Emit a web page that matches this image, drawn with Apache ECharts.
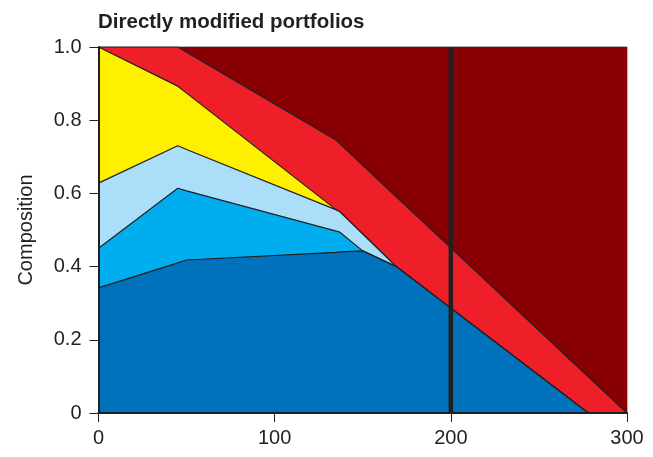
<!DOCTYPE html>
<html>
<head>
<meta charset="utf-8">
<script src="https://cdn.jsdelivr.net/npm/echarts@6/dist/echarts.min.js"></script>
<style>
  html, body { margin: 0; padding: 0; background: #fff; }
  #chart { width: 653px; height: 457px; }
</style>
</head>
<body>
<div id="chart"></div>
<script>
// Horizon points (x) where the portfolio mix changes slope
const xPoints = [0, 45, 50, 135, 137, 150, 169, 200, 278, 300];

// Share of each asset class at every x point (bottom layer first)
const shareDarkBlue  = [0.342, 0.410, 0.418, 0.439, 0.440, 0.443, 0.400, 0.286, 0.000, 0.000];
const shareMidBlue   = [0.108, 0.204, 0.189, 0.058, 0.054, 0.000, 0.000, 0.000, 0.000, 0.000];
const shareLightBlue = [0.178, 0.116, 0.113, 0.058, 0.056, 0.046, 0.000, 0.000, 0.000, 0.000];
const shareYellow    = [0.372, 0.163, 0.154, 0.000, 0.000, 0.000, 0.000, 0.000, 0.000, 0.000];
const shareRed       = [0.000, 0.107, 0.112, 0.190, 0.186, 0.188, 0.191, 0.165, 0.099, 0.000];
const shareDarkRed   = [0.000, 0.000, 0.014, 0.255, 0.264, 0.323, 0.409, 0.549, 0.901, 1.000];

const markerX = 200;
const yTicks = [0, 0.2, 0.4, 0.6, 0.8, 1.0];
const xTicks = [0, 100, 200, 300];

const layers = [
  { name: 'Dark blue',  share: shareDarkBlue,  color: '#0071bb' },
  { name: 'Mid blue',   share: shareMidBlue,   color: '#00aeef' },
  { name: 'Light blue', share: shareLightBlue, color: '#abdff9' },
  { name: 'Yellow',     share: shareYellow,    color: '#fff000' },
  { name: 'Red',        share: shareRed,       color: '#ee1f28' },
  { name: 'Dark red',   share: shareDarkRed,   color: '#880004' }
];

// Running totals: the upper edge of each layer
const running = xPoints.map(() => 0);
layers.forEach(l => {
  l.top = xPoints.map((x, i) => {
    running[i] += l.share[i];
    return [x, Math.min(1, +running[i].toFixed(4))];
  });
});

const edgeColor = '#231f20';
const font = 'Liberation Sans, Arial, Helvetica, sans-serif';

// Paint from the top layer down so each area fills to zero over the one above
const series = layers.slice().reverse().map((l, k) => ({
  name: l.name,
  type: 'line',
  data: l.top,
  symbol: 'none',
  silent: true,
  z: 2 + k,
  lineStyle: { color: edgeColor, width: l.name === 'Dark red' ? 0 : 1.2 },
  areaStyle: { color: l.color, opacity: 1 }
}));

series.push({
  name: 'Marker',
  type: 'line',
  data: [[markerX, 0], [markerX, 1]],
  symbol: 'none',
  silent: true,
  z: 20,
  lineStyle: { color: edgeColor, width: 4.5 }
});

const chart = echarts.init(document.getElementById('chart'), null, { renderer: 'canvas' });
chart.setOption({
  animation: false,
  backgroundColor: '#ffffff',
  title: {
    text: 'Directly modified portfolios',
    left: 93,
    top: 7,
    textStyle: { fontFamily: font, fontSize: 20.5, fontWeight: 'bold', color: edgeColor }
  },
  grid: {
    left: 98.5, right: 26, top: 47, bottom: 44,
    show: true, borderColor: '#666', borderWidth: 1, backgroundColor: 'transparent'
  },
  xAxis: {
    type: 'value',
    z: 30,
    min: xTicks[0], max: xTicks[xTicks.length - 1], interval: 100,
    axisLine: { show: true, onZero: false, lineStyle: { color: edgeColor, width: 2 } },
    axisTick: { show: true, inside: false, length: 9, lineStyle: { color: edgeColor, width: 1 } },
    axisLabel: { margin: 15, fontFamily: font, fontSize: 20, color: edgeColor },
    splitLine: { show: false }
  },
  yAxis: {
    type: 'value',
    z: 30,
    min: yTicks[0], max: yTicks[yTicks.length - 1], interval: 0.2,
    name: 'Composition',
    nameLocation: 'middle',
    nameGap: 62,
    nameTextStyle: { fontFamily: font, fontSize: 20, color: edgeColor },
    axisLine: { show: true, onZero: false, lineStyle: { color: edgeColor, width: 2 } },
    axisTick: { show: true, inside: false, length: 9, lineStyle: { color: edgeColor, width: 1 } },
    axisLabel: {
      margin: 17, fontFamily: font, fontSize: 20, color: edgeColor,
      formatter: v => (v === 0 ? '0' : v.toFixed(1))
    },
    splitLine: { show: false }
  },
  series: series
});
</script>
</body>
</html>
